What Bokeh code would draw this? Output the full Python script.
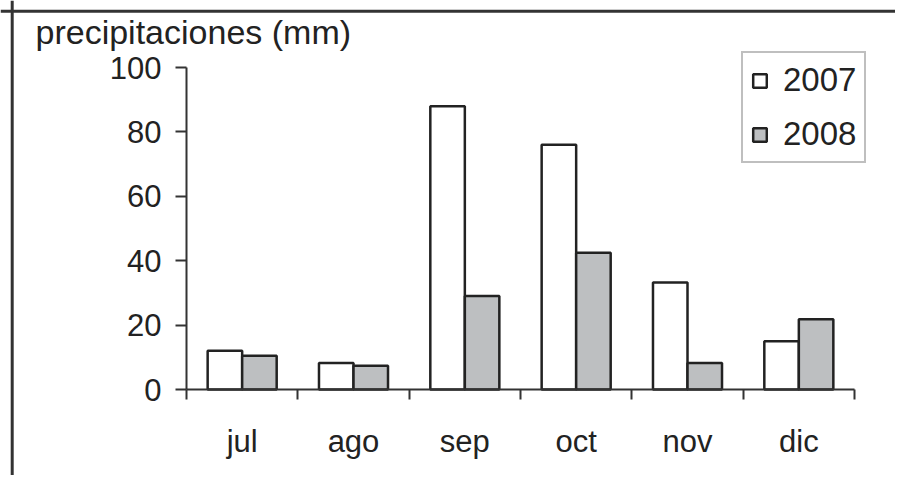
from bokeh.plotting import figure
from bokeh.models import (ColumnDataSource, FixedTicker, Range1d, Legend, LegendItem,
                          Span, Label)
from bokeh.transform import dodge
from bokeh.embed import file_html
from bokeh.resources import INLINE

months = ["jul", "ago", "sep", "oct", "nov", "dic"]
series_2007 = [12, 8.2, 88, 76, 33.2, 15]
series_2008 = [10.5, 7.4, 29, 42.5, 8.2, 21.8]
y_ticks = [0, 20, 40, 60, 80, 100]
legend_labels = ["2007", "2008"]
title_text = "precipitaciones (mm)"

FONT = "Liberation Sans"
DARK = "#333333"
TXT = "#222222"

# canvas layout (pixels)
W, H = 895, 475
AX_LEFT_PX, AX_RIGHT_PX = 186, 854      # x = 0 and x = 6
AX_BOTTOM_PX, AX_TOP_PX = 389, 67       # y = 0 and y = 100

n = len(months)
sx = (AX_RIGHT_PX - AX_LEFT_PX) / n
sy = (AX_BOTTOM_PX - AX_TOP_PX) / 100.0
x_start, x_end = -AX_LEFT_PX / sx, (W - AX_LEFT_PX) / sx
y_start, y_end = -(H - AX_BOTTOM_PX) / sy, AX_BOTTOM_PX / sy


def px_to_x(px):
    return (px - AX_LEFT_PX) / sx


def px_to_y(py):
    return (AX_BOTTOM_PX - py) / sy


x_pos = [i + 0.5 for i in range(n)]
src = ColumnDataSource(dict(x=x_pos, month=months, y07=series_2007, y08=series_2008))

p = figure(width=W, height=H, output_backend="svg", toolbar_location=None,
           x_range=Range1d(x_start, x_end), y_range=Range1d(y_start, y_end),
           min_border_left=0, min_border_right=0, min_border_top=0,
           min_border_bottom=0)
p.background_fill_color = "white"
p.border_fill_color = "white"
p.outline_line_color = None
p.xgrid.visible = False
p.ygrid.visible = False

# x axis: labels at category centers, ticks at category boundaries
xa = p.xaxis[0]
xa.fixed_location = 0
xa.bounds = (0, n)
xa.ticker = FixedTicker(ticks=x_pos, minor_ticks=list(range(n + 1)))
xa.major_label_overrides = {x: m for x, m in zip(x_pos, months)}
xa.major_tick_out = 0
xa.major_tick_in = 0
xa.minor_tick_out = 10
xa.minor_tick_in = 0
xa.minor_tick_line_color = DARK
xa.minor_tick_line_width = 2
xa.axis_line_color = DARK
xa.axis_line_width = 2
xa.major_label_standoff = 24
xa.major_label_text_font = FONT
xa.major_label_text_font_size = "31px"
xa.major_label_text_color = TXT

ya = p.yaxis[0]
ya.fixed_location = 0
ya.bounds = (0, 100)
ya.ticker = FixedTicker(ticks=y_ticks, minor_ticks=[])
ya.major_tick_out = 11
ya.major_tick_in = 0
ya.major_tick_line_color = DARK
ya.major_tick_line_width = 2
ya.minor_tick_line_color = None
ya.axis_line_color = DARK
ya.axis_line_width = 2
ya.major_label_standoff = 14
ya.major_label_text_font = FONT
ya.major_label_text_font_size = "31px"
ya.major_label_text_color = TXT

r07 = p.vbar(x=dodge("x", -0.155), top="y07", width=0.31, bottom=0, source=src,
             fill_color="white", line_color="#222222", line_width=2.5)
r08 = p.vbar(x=dodge("x", 0.155), top="y08", width=0.31, bottom=0, source=src,
             fill_color="#bdbfc1", line_color="#222222", line_width=2.5)

legend = Legend(items=[LegendItem(label=legend_labels[0], renderers=[r07]),
                       LegendItem(label=legend_labels[1], renderers=[r08])],
                location=(741, H - 163))
legend.label_text_font = FONT
legend.label_text_font_size = "33px"
legend.label_text_color = TXT
legend.glyph_width = 17
legend.glyph_height = 17
legend.padding = 8
legend.spacing = 16
legend.label_standoff = 15
legend.border_line_color = "#808080"
legend.border_line_width = 2
legend.background_fill_color = "white"
legend.background_fill_alpha = 1
p.add_layout(legend)

p.add_layout(Label(x=px_to_x(35), y=px_to_y(31), text=title_text,
                   text_font=FONT, text_font_size="34px",
                   text_color=TXT, text_align="left", text_baseline="alphabetic"))

# outer frame lines (left and top)
p.add_layout(Span(location=px_to_x(11.7), dimension="height",
                  line_color=DARK, line_width=3))
p.add_layout(Span(location=px_to_y(10.7), dimension="width",
                  line_color=DARK, line_width=3))

open("out.html", "w").write(file_html(p, INLINE))
